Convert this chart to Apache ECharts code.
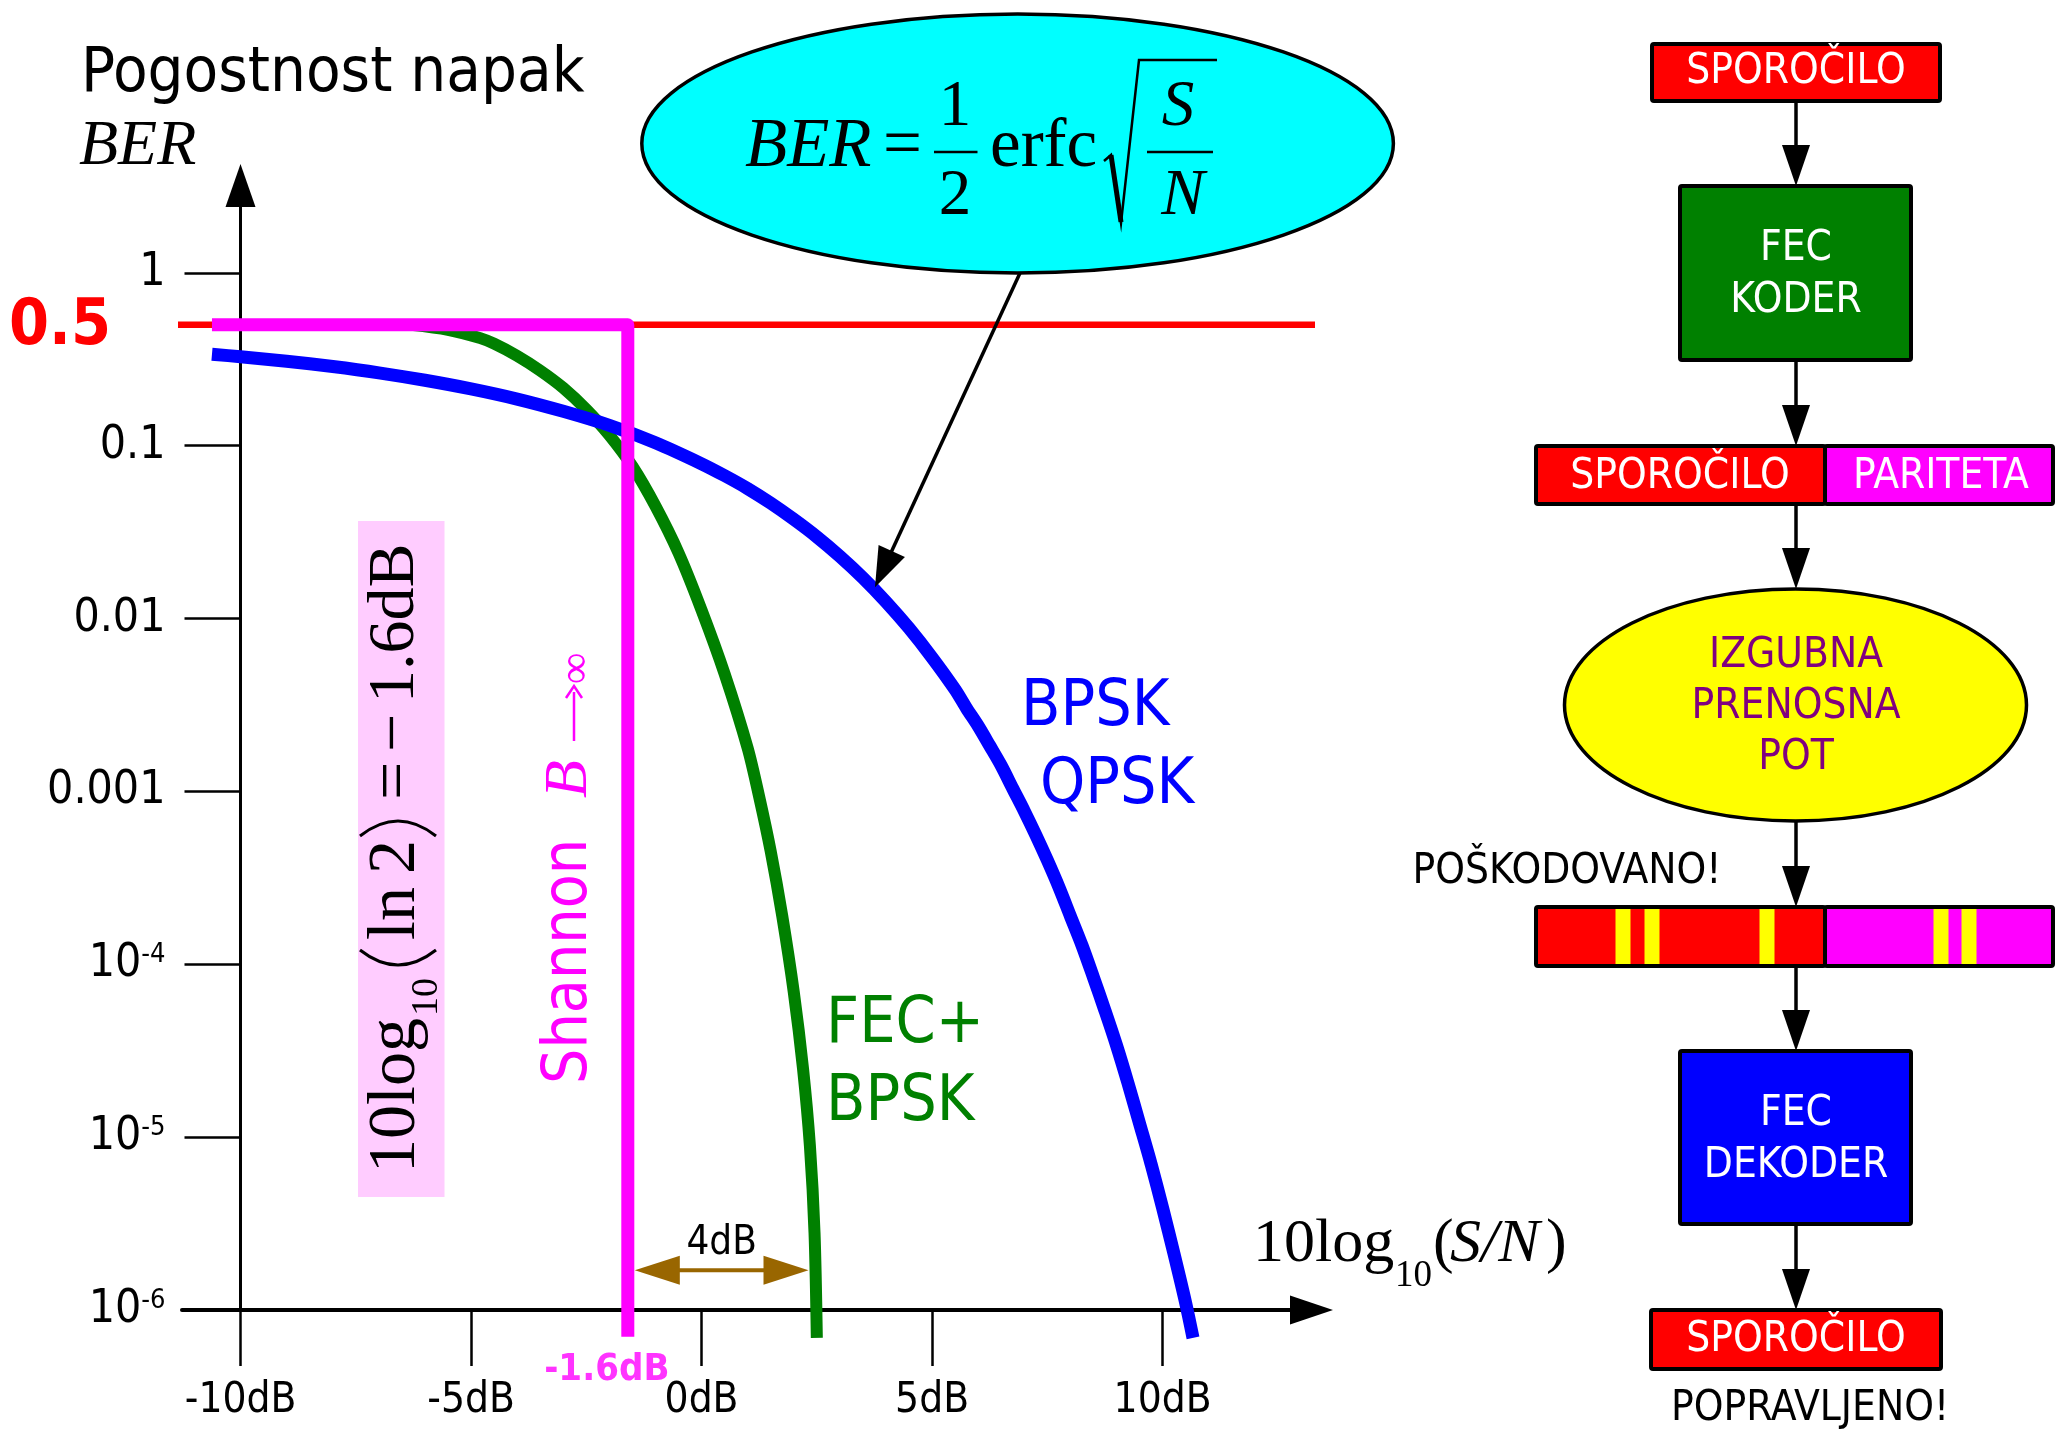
<!DOCTYPE html>
<html>
<head>
<meta charset="utf-8">
<script src="https://cdn.jsdelivr.net/npm/echarts@6.0.0/dist/echarts.min.js"></script>
<style>
  html, body { margin: 0; padding: 0; background: #ffffff; }
  #chart { width: 2056px; height: 1430px; }
</style>
</head>
<body>
<div id="chart"></div>
<script>
// ---- data: Eb/N0 [dB] versus bit error rate ----
const bpskDb  = [-10.62, -10, -9, -8, -7, -6, -5, -4, -3, -2, -1,
                 0, 0.5, 1, 1.5, 2, 2.5, 3, 3.5, 4, 4.5, 5, 5.5,
                 5.75, 6, 6.25, 6.5, 6.75, 7, 7.25, 7.5, 7.75, 8, 8.25, 8.5, 8.75, 9, 9.25, 9.5, 9.75, 10, 10.25, 10.5, 10.66];
const bpskBer = [0.338, 0.327, 0.308, 0.287, 0.264, 0.239, 0.213, 0.186, 0.158, 0.131, 0.104,
                 0.0786, 0.0671, 0.0565, 0.0465, 0.0375, 0.0297, 0.0229, 0.0172, 0.0125, 0.0088, 0.00595, 0.00388,
                 0.00302, 0.00239, 0.00184, 0.00141, 0.00104, 7.7e-4, 5.6e-4, 4.0e-4, 2.8e-4, 1.9e-4, 1.29e-4, 8.4e-5, 5.4e-5, 3.4e-5, 2.05e-5, 1.2e-5, 7.0e-6, 3.9e-6, 2.1e-6, 1.1e-6, 6.9e-7];

const fecDb  = [-6.3, -5.5, -4.8, -4.5, -4, -3.5, -3, -2.5, -2, -1.5, -1, -0.5, 0, 0.5, 1, 1.25, 1.5, 1.75, 2.0, 2.2, 2.35, 2.45, 2.5];
const fecBer = [0.5, 0.468, 0.419, 0.389, 0.331, 0.272, 0.216, 0.162, 0.115, 0.0759, 0.0447, 0.024, 0.0112, 0.00479, 0.00178, 9.3e-4, 4.5e-4, 1.9e-4, 6.9e-5, 2.5e-5, 8.9e-6, 2.8e-6, 6.9e-7];

// Shannon limit for infinite bandwidth, and the BER = 0.5 ceiling
const shannonDb = -1.6;
const shannonDbSpan = [-10.62, -1.6, -1.6];
const shannonBer = [0.5, 0.5, 7e-7];
const halfDb = [-12.5, 13.75];
const halfBer = [0.5, 0.5];

// coding gain marker between the Shannon limit and the coded curve
const gapFromDb = -1.6, gapToDb = 2.45, gapBer = 1.7e-6;
// point of the uncoded curve the formula callout points at
const calloutDb = 3.74;

// axis ticks
const xTickDb = [-10, -5, 0, 5, 10];
const xTickLabels = ['-10dB', '-5dB', '0dB', '5dB', '10dB'];
const yTickVals = [1, 0.1, 0.01, 0.001, 1e-4, 1e-5, 1e-6];
const yTickLabels = ['1', '0.1', '0.01', '0.001', '10{sup|-4}', '10{sup|-5}', '10{sup|-6}'];

// ---- drawing ----
const SANS = '"DejaVu Sans Condensed", "DejaVu Sans", sans-serif';
const SERIF = '"Liberation Serif", "DejaVu Serif", serif';

const pairs = (xs, ys) => xs.map((x, i) => [x, ys[i]]);

const chart = echarts.init(document.getElementById('chart'), null, { renderer: 'canvas' });

const option = {
  backgroundColor: '#ffffff',
  animation: false,
  grid: { left: 182, top: 185.5, width: 1129.5, height: 1124.5, outerBoundsMode: 'none', containLabel: false },
  xAxis: {
    type: 'value', min: -11.27, max: 13.23, position: 'bottom',
    axisLine: { show: true, onZero: false, symbol: ['none', 'triangle'], symbolSize: [29, 43],
      lineStyle: { color: '#000', width: 4 } },
    axisTick: { show: true, customValues: xTickDb, length: 56, inside: false,
      lineStyle: { color: '#000', width: 2.5 } },
    axisLabel: { show: true, customValues: xTickDb, margin: 70, color: '#000', fontSize: 42, fontFamily: SANS,
      formatter: v => { const i = xTickDb.findIndex(t => Math.abs(t - v) < 1e-9); return i >= 0 ? xTickLabels[i] : ''; } },
    splitLine: { show: false }
  },
  yAxis: {
    type: 'log', logBase: 10, min: 1e-6, max: 3.2, position: 'left', offset: -58.5,
    axisLine: { show: true, onZero: false, symbol: ['none', 'triangle'], symbolSize: [30, 43],
      lineStyle: { color: '#000', width: 3 } },
    axisTick: { show: true, customValues: yTickVals, length: 56, inside: false,
      lineStyle: { color: '#000', width: 2.5 } },
    axisLabel: { show: true, customValues: yTickVals, margin: 75, color: '#000', fontSize: 46, fontFamily: SANS,
      formatter: v => {
        const i = yTickVals.findIndex(t => Math.abs(Math.log10(t) - Math.log10(v)) < 1e-6);
        return i >= 0 ? yTickLabels[i] : '';
      },
      rich: { sup: { fontSize: 27, fontFamily: SANS, color: '#000', verticalAlign: 'top', lineHeight: 28 } } },
    splitLine: { show: false }, minorTick: { show: false }, minorSplitLine: { show: false }
  },
  series: [
    { type: 'line', name: 'BER 0.5', data: pairs(halfDb, halfBer), symbol: 'none', clip: false, silent: true, z: 2,
      lineStyle: { color: '#ff0000', width: 6.5 } },
    { type: 'line', name: 'FEC+BPSK', data: pairs(fecDb, fecBer), symbol: 'none', clip: false, silent: true, z: 3,
      smooth: 0.3, lineStyle: { color: '#008000', width: 12 } },
    { type: 'line', name: 'BPSK/QPSK', data: pairs(bpskDb, bpskBer), symbol: 'none', clip: false, silent: true, z: 4,
      smooth: 0.3, lineStyle: { color: '#0000ff', width: 13 } },
    { type: 'line', name: 'Shannon', data: pairs(shannonDbSpan, shannonBer), symbol: 'none', clip: false, silent: true, z: 5,
      lineStyle: { color: '#ff00ff', width: 13, join: 'round', cap: 'butt' } }
  ]
};
chart.setOption(option);

const px = (db, ber) => chart.convertToPixel({ gridIndex: 0 }, [db, ber]);

function txt(x, y, text, size, o) {
  o = o || {};
  const font = (o.italic ? 'italic ' : '') + (o.bold ? 'bold ' : '') + size + 'px ' + (o.family || SANS);
  return { type: 'text', x: x, y: y, z: o.z || 20,
    style: { text: text, font: font, fill: o.color || '#000',
      align: o.align || 'center', verticalAlign: 'middle',
      textAlign: o.align || 'center', textVerticalAlign: 'middle' } };
}
function seg(x1, y1, x2, y2, w, c, z) {
  return { type: 'line', z: z || 20, shape: { x1, y1, x2, y2 }, style: { stroke: c || '#000', lineWidth: w } };
}
function head(tx, ty, dx, dy, len, halfW, color, z) {
  const L = Math.hypot(dx, dy); const ux = dx / L, uy = dy / L;
  const bx = tx - ux * len, by = ty - uy * len;
  return { type: 'polygon', z: z || 21,
    shape: { points: [[tx, ty], [bx - uy * halfW, by + ux * halfW], [bx + uy * halfW, by - ux * halfW]] },
    style: { fill: color || '#000' } };
}
function curve(x1, y1, cx, cy, x2, y2, w, c) {
  return { type: 'bezierCurve', z: 20, shape: { x1, y1, x2, y2, cpx1: cx, cpy1: cy },
    style: { stroke: c || '#000', lineWidth: w, fill: null } };
}
function box(x, y, w, h, fill, z) {
  return { type: 'rect', z: z || 20, shape: { x, y, width: w, height: h, r: 2 },
    style: { fill: fill, stroke: '#000', lineWidth: 4 } };
}
function downArrow(x, y1, y2) {
  return [seg(x, y1, x, y2 - 40, 3.5), head(x, y2, 0, 1, 41, 14)];
}

// interpolate the uncoded curve (log domain) at the callout point
function bpskAt(db) {
  for (let i = 1; i < bpskDb.length; i++) {
    if (db <= bpskDb[i]) {
      const t = (db - bpskDb[i - 1]) / (bpskDb[i] - bpskDb[i - 1]);
      return Math.pow(10, Math.log10(bpskBer[i - 1]) + t * (Math.log10(bpskBer[i]) - Math.log10(bpskBer[i - 1])));
    }
  }
  return bpskBer[bpskBer.length - 1];
}

const els = [];

// axis titles
els.push(txt(81, 75, 'Pogostnost napak', 63, { align: 'left' }));
els.push(txt(79, 147, 'BER', 64, { align: 'left', italic: true, family: SERIF }));
els.push(txt(1253, 1245, '10log', 62, { align: 'left', family: SERIF }));
els.push(txt(1395, 1276, '10', 37, { align: 'left', family: SERIF }));
els.push(txt(1433, 1245, '(', 62, { align: 'left', family: SERIF }));
els.push(txt(1450, 1245, 'S/N', 62, { align: 'left', italic: true, family: SERIF }));
els.push(txt(1546, 1245, ')', 62, { align: 'left', family: SERIF }));

// 0.5 marker and Shannon value
const pHalf = px(-10, 0.5);
els.push(txt(60, pHalf[1] + 3, '0.5', 64, { bold: true, color: '#ff0000' }));
const pSh = px(shannonDb, 1e-6);
els.push(txt(pSh[0] - 21, 1370, '-1.6dB', 38, { bold: true, color: '#ff33ff' }));

// coding gain arrow
const gA = px(gapFromDb, gapBer), gB = px(gapToDb, gapBer);
const gx1 = gA[0] + 7, gx2 = gB[0] - 6;
els.push(seg(gx1 + 30, gA[1], gx2 - 30, gA[1], 4, '#996600'));
els.push(head(gx1, gA[1], -1, 0, 45, 14.5, '#996600'));
els.push(head(gx2, gA[1], 1, 0, 45, 14.5, '#996600'));
els.push(txt((gx1 + gx2) / 2, gA[1] - 27, '4dB', 40));

// curve labels
els.push(txt(1021, 708, 'BPSK', 64, { align: 'left', color: '#0000ff' }));
els.push(txt(1040, 786, 'QPSK', 64, { align: 'left', color: '#0000ff' }));
els.push(txt(826, 1025, 'FEC+', 64, { align: 'left', color: '#008000' }));
els.push(txt(826, 1103, 'BPSK', 64, { align: 'left', color: '#008000' }));

// Shannon label, reading upwards
const MAG = '#ff00ff';
els.push({ type: 'group', x: 570, y: 1084, rotation: Math.PI / 2, z: 20, children: [
  txt(0, 0, 'Shannon', 62, { align: 'left', color: MAG }),
  txt(286, 0, 'B', 62, { align: 'left', italic: true, family: SERIF, color: MAG }),
  seg(343, 4, 392, 4, 2.5, MAG),
  { type: 'polyline', z: 20, shape: { points: [[386, -4], [398, 4], [386, 12]] }, style: { stroke: MAG, lineWidth: 2.5, fill: null } },
  txt(400, 7, '∞', 44, { align: 'left', family: SERIF, color: MAG })
] });

// pink box with the limit formula, reading upwards
els.push({ type: 'rect', z: 1, shape: { x: 358, y: 521, width: 86.5, height: 676 }, style: { fill: '#ffccff' } });
els.push({ type: 'group', x: 400, y: 1200, rotation: Math.PI / 2, z: 20, children: [
  txt(27, -4, '10log', 68, { align: 'left', family: SERIF }),
  txt(184, 27, '10', 38, { align: 'left', family: SERIF }),
  curve(250, -40, 220, -2, 250, 36, 3),
  txt(260, -4, 'ln', 68, { align: 'left', family: SERIF }),
  txt(326, -4, '2', 68, { align: 'left', family: SERIF }),
  curve(364, -40, 394, -2, 364, 36, 3),
  txt(400, -4, '=', 68, { align: 'left', family: SERIF }),
  txt(448, -4, '−', 68, { align: 'left', family: SERIF }),
  txt(497, -4, '1.6dB', 66, { align: 'left', family: SERIF })
] });

// formula bubble
els.push({ type: 'ellipse', z: 15, shape: { cx: 1017.6, cy: 143.5, rx: 375.8, ry: 129.5 },
  style: { fill: '#00ffff', stroke: '#000', lineWidth: 3.5 } });
els.push(txt(745, 148, 'BER', 69, { align: 'left', italic: true, family: SERIF }));
els.push(txt(883, 148, '=', 69, { align: 'left', family: SERIF }));
els.push(txt(955, 108, '1', 65, { family: SERIF }));
els.push(seg(934, 152, 977.5, 152, 2.5));
els.push(txt(955, 197, '2', 65, { family: SERIF }));
els.push(txt(990, 148, 'erfc', 69, { align: 'left', family: SERIF }));
els.push({ type: 'polyline', z: 20, shape: { points: [[1104, 161], [1111, 155], [1121, 223], [1139, 60], [1217, 60]] },
  style: { stroke: '#000', lineWidth: 2.5, fill: null } });
els.push(seg(1111, 155, 1121, 222, 5));
els.push(txt(1178, 108, 'S', 65, { italic: true, family: SERIF }));
els.push(seg(1147, 152, 1213, 152, 2.5));
els.push(txt(1183, 197, 'N', 65, { italic: true, family: SERIF }));

// callout from the bubble to the uncoded curve
const tip = px(calloutDb, bpskAt(calloutDb));
const cs = [1020, 273];
const cdx = tip[0] - cs[0], cdy = tip[1] - cs[1], cL = Math.hypot(cdx, cdy);
els.push(seg(cs[0], cs[1], tip[0] - cdx / cL * 36, tip[1] - cdy / cL * 36, 3.5));
els.push(head(tip[0] + 1, tip[1] - 2, cdx, cdy, 40, 14.5));

// ---- FEC block diagram ----
const CX = 1796;
els.push(box(1652, 44, 288, 57, '#ff0000'));
els.push(txt(CX, 72, 'SPOROČILO', 42, { color: '#fff' }));
els.push(...downArrow(CX, 101, 186));

els.push(box(1680, 186, 231, 174, '#008000'));
els.push(txt(CX, 249, 'FEC', 42, { color: '#fff' }));
els.push(txt(CX, 301, 'KODER', 42, { color: '#fff' }));
els.push(...downArrow(CX, 360, 446));

els.push(box(1536, 446, 289, 58, '#ff0000'));
els.push(box(1825, 446, 228, 58, '#ff00ff'));
els.push(txt(1680, 477, 'SPOROČILO', 42, { color: '#fff' }));
els.push(txt(1941, 477, 'PARITETA', 42, { color: '#fff' }));
els.push(...downArrow(CX, 504, 589));

els.push({ type: 'ellipse', z: 20, shape: { cx: 1795.5, cy: 705, rx: 231, ry: 116 },
  style: { fill: '#ffff00', stroke: '#000', lineWidth: 3.5 } });
els.push(txt(CX, 656, 'IZGUBNA', 42, { color: '#800080' }));
els.push(txt(CX, 707, 'PRENOSNA', 42, { color: '#800080' }));
els.push(txt(CX, 758, 'POT', 42, { color: '#800080' }));
els.push(...downArrow(CX, 821, 907));

els.push(txt(1567, 872, 'POŠKODOVANO!', 42));
els.push({ type: 'rect', z: 19, shape: { x: 1536, y: 907, width: 289, height: 59 }, style: { fill: '#ff0000' } });
els.push({ type: 'rect', z: 19, shape: { x: 1825, y: 907, width: 228, height: 59 }, style: { fill: '#ff00ff' } });
[1623, 1652, 1767, 1941, 1969].forEach(c => {
  els.push({ type: 'rect', z: 20, shape: { x: c - 7.5, y: 909, width: 15, height: 55 }, style: { fill: '#ffff00' } });
});
els.push({ type: 'rect', z: 21, shape: { x: 1536, y: 907, width: 289, height: 59, r: 2 }, style: { fill: null, stroke: '#000', lineWidth: 4 } });
els.push({ type: 'rect', z: 21, shape: { x: 1825, y: 907, width: 228, height: 59, r: 2 }, style: { fill: null, stroke: '#000', lineWidth: 4 } });
els.push(...downArrow(CX, 966, 1051));

els.push(box(1680, 1051, 231, 173, '#0000ff'));
els.push(txt(CX, 1114, 'FEC', 42, { color: '#fff' }));
els.push(txt(CX, 1166, 'DEKODER', 42, { color: '#fff' }));
els.push(...downArrow(CX, 1224, 1310));

els.push(box(1651, 1310, 290, 59, '#ff0000'));
els.push(txt(CX, 1340, 'SPOROČILO', 42, { color: '#fff' }));
els.push(txt(1810, 1409, 'POPRAVLJENO!', 42));

chart.setOption({ graphic: { elements: els } });
</script>
</body>
</html>
